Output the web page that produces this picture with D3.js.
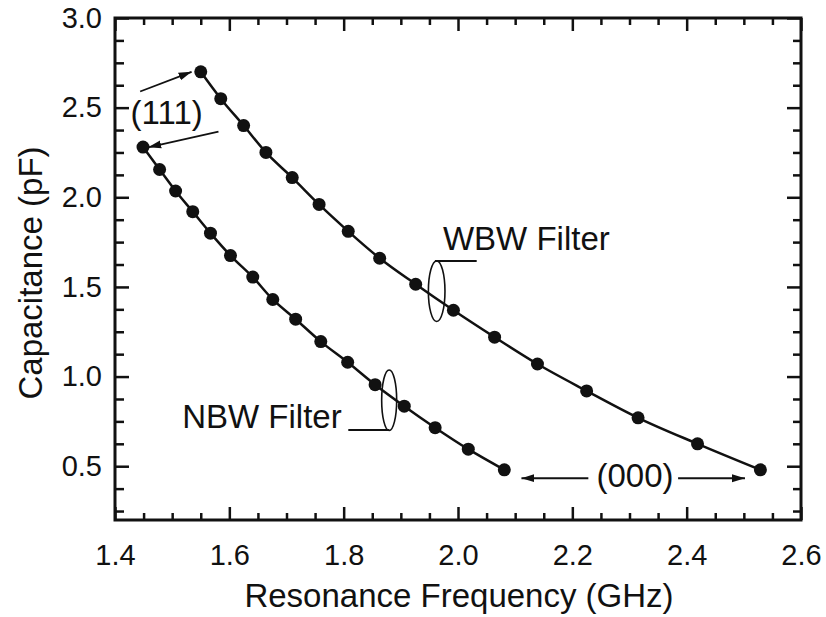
<!DOCTYPE html>
<html>
<head>
<meta charset="utf-8">
<script src="https://cdn.jsdelivr.net/npm/d3@7"></script>
<style>
  body { margin:0; background:#fff; }
  text { font-family: "Liberation Sans", Arial, sans-serif; fill:#111; }
</style>
</head>
<body>
<div id="content"></div>
<script>
'use strict';
//////////////////// input data
// WBW filter (upper curve)
const wbwFreq = [1.550, 1.585, 1.625, 1.664, 1.710, 1.757, 1.808, 1.863, 1.926, 1.992, 2.064, 2.139, 2.225, 2.315, 2.419, 2.529];
const wbwCap  = [2.70, 2.55, 2.40, 2.25, 2.11, 1.96, 1.81, 1.66, 1.515, 1.37, 1.22, 1.07, 0.92, 0.77, 0.625, 0.48];
// NBW filter (lower curve)
const nbwFreq = [1.449, 1.478, 1.506, 1.536, 1.567, 1.602, 1.641, 1.676, 1.716, 1.760, 1.807, 1.855, 1.906, 1.960, 2.018, 2.081];
const nbwCap  = [2.28, 2.155, 2.035, 1.92, 1.80, 1.675, 1.555, 1.43, 1.32, 1.195, 1.08, 0.955, 0.835, 0.715, 0.595, 0.48];

const xTicks = [1.4, 1.6, 1.8, 2.0, 2.2, 2.4, 2.6];
const yTicks = [0.5, 1.0, 1.5, 2.0, 2.5, 3.0];

const wbw = wbwFreq.map((f, i) => ({x: f, y: wbwCap[i]}));
const nbw = nbwFreq.map((f, i) => ({x: f, y: nbwCap[i]}));


//////////////////// drawing area
const W = 826, H = 617;
const margin = { left:115, right:25, top:18, bottom:97 };
const iW = W - margin.left - margin.right;
const iH = H - margin.top - margin.bottom;

const xScale = d3.scaleLinear().domain([1.4, 2.6]).range([0, iW]);
const yScale = d3.scaleLinear().domain([0.2, 3.0]).range([iH, 0]);

const xMinor = d3.range(1.45, 2.6, 0.05).filter(v => Math.abs(v * 5 - Math.round(v * 5)) > 1e-6);
const yMinor = d3.range(0.25, 3.0, 0.125).filter(v => Math.abs(v * 2 - Math.round(v * 2)) > 1e-6);

const fmt = d3.format(".1f");
const ink = "#111";


//////////////////// svg
const svg = d3.select("#content")
    .append("svg")
        .attr("width",  W)
        .attr("height", H);

svg.append("defs").append("marker")
    .attr("id", "arrow")
    .attr("markerUnits", "userSpaceOnUse")
    .attr("markerWidth", 14)
    .attr("markerHeight", 10)
    .attr("refX", 13)
    .attr("refY", 5)
    .attr("orient", "auto")
  .append("path")
    .attr("d", "M0,1 L13,5 L0,9 Z")
    .attr("fill", ink);

const diagram = svg.append("g")
    .attr("transform", "translate("+margin.left+", "+margin.top+")");

// axes: major + minor ticks on all four sides, pointing inward
function styleAxis(g) {
    g.select(".domain").remove();
    g.selectAll(".tick line").attr("stroke", ink).attr("stroke-width", 2.5);
    g.selectAll(".tick text").attr("font-size", 29).attr("fill", ink);
}

diagram.append("g")
    .attr("transform", "translate(0,"+iH+")")
    .call(d3.axisBottom(xScale).tickValues(xTicks).tickSize(-13).tickPadding(24).tickFormat(fmt))
    .call(styleAxis);
diagram.append("g")
    .attr("transform", "translate(0,"+iH+")")
    .call(d3.axisBottom(xScale).tickValues(xMinor).tickSize(-7).tickFormat(""))
    .call(styleAxis);
diagram.append("g")
    .call(d3.axisTop(xScale).tickValues(xTicks).tickSize(-13).tickFormat(""))
    .call(styleAxis);
diagram.append("g")
    .call(d3.axisTop(xScale).tickValues(xMinor).tickSize(-7).tickFormat(""))
    .call(styleAxis);

diagram.append("g")
    .call(d3.axisLeft(yScale).tickValues(yTicks).tickSize(-14).tickPadding(13).tickFormat(fmt))
    .call(styleAxis);
diagram.append("g")
    .call(d3.axisLeft(yScale).tickValues(yMinor).tickSize(-9).tickFormat(""))
    .call(styleAxis);
diagram.append("g")
    .attr("transform", "translate("+iW+",0)")
    .call(d3.axisRight(yScale).tickValues(yTicks).tickSize(-14).tickFormat(""))
    .call(styleAxis);
diagram.append("g")
    .attr("transform", "translate("+iW+",0)")
    .call(d3.axisRight(yScale).tickValues(yMinor).tickSize(-8).tickFormat(""))
    .call(styleAxis);

// frame
diagram.append("rect")
    .attr("width", iW)
    .attr("height", iH)
    .attr("fill", "none")
    .attr("stroke", ink)
    .attr("stroke-width", 3);

// axis titles
svg.append("text")
    .attr("x", margin.left + iW / 2 + 1)
    .attr("y", 607)
    .attr("text-anchor", "middle")
    .attr("font-size", 33)
    .text("Resonance Frequency (GHz)");

svg.append("text")
    .attr("transform", "translate(42,"+(margin.top + iH / 2 + 4)+") rotate(-90)")
    .attr("text-anchor", "middle")
    .attr("font-size", 33)
    .text("Capacitance (pF)");

// curves and points
const line = d3.line()
    .x(d => xScale(d.x))
    .y(d => yScale(d.y))
    .curve(d3.curveMonotoneX);

[wbw, nbw].forEach(series => {
    diagram.append("path")
        .datum(series)
        .attr("d", line)
        .attr("fill", "none")
        .attr("stroke", ink)
        .attr("stroke-width", 2.5);

    diagram.selectAll(null)
        .data(series)
        .enter()
        .append("circle")
        .attr("cx", d => xScale(d.x))
        .attr("cy", d => yScale(d.y))
        .attr("r", 6.5)
        .attr("fill", ink);
});

// annotations (positions in data units)
const arrows = [
    [1.444, 2.59, 1.534, 2.70],
    [1.581, 2.366, 1.458, 2.279],
    [2.228, 0.433, 2.111, 0.433],
    [2.385, 0.433, 2.502, 0.433]
];
diagram.selectAll(".arrow")
    .data(arrows)
    .enter()
    .append("line")
    .attr("class", "arrow")
    .attr("x1", d => xScale(d[0]))
    .attr("y1", d => yScale(d[1]))
    .attr("x2", d => xScale(d[2]))
    .attr("y2", d => yScale(d[3]))
    .attr("stroke", ink)
    .attr("stroke-width", 1.8)
    .attr("marker-end", "url(#arrow)");

const labels = [
    {x: 1.4904, y: 2.409, t: "(111)", anchor: "middle"},
    {x: 2.3096, y: 0.384, t: "(000)", anchor: "middle"},
    {x: 1.9737, y: 1.706, t: "WBW Filter", anchor: "start"},
    {x: 1.7965, y: 0.712, t: "NBW Filter", anchor: "end"}
];
diagram.selectAll(".note")
    .data(labels)
    .enter()
    .append("text")
    .attr("class", "note")
    .attr("x", d => xScale(d.x))
    .attr("y", d => yScale(d.y))
    .attr("text-anchor", d => d.anchor)
    .attr("font-size", 33)
    .text(d => d.t);

// brace ellipses with leader lines
const callouts = [
    {cx: 1.9627, cy: 1.476, rx: 8.3, ry: 30.3, x1: 1.9597, x2: 2.0327, ly: 1.645},
    {cx: 1.8796, cy: 0.868, rx: 7.5, ry: 30.3, x1: 1.8081, x2: 1.8798, ly: 0.702}
];
callouts.forEach(c => {
    diagram.append("ellipse")
        .attr("cx", xScale(c.cx))
        .attr("cy", yScale(c.cy))
        .attr("rx", c.rx)
        .attr("ry", c.ry)
        .attr("fill", "none")
        .attr("stroke", ink)
        .attr("stroke-width", 1.6);
    diagram.append("line")
        .attr("x1", xScale(c.x1))
        .attr("x2", xScale(c.x2))
        .attr("y1", yScale(c.ly))
        .attr("y2", yScale(c.ly))
        .attr("stroke", ink)
        .attr("stroke-width", 2);
});
</script>
</body>
</html>
